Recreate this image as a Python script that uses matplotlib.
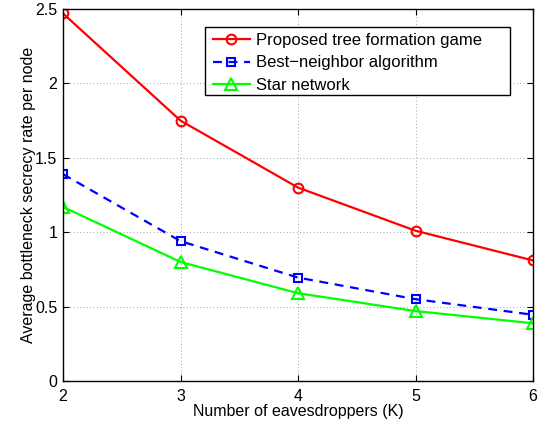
import matplotlib
matplotlib.use("Agg")
import matplotlib.pyplot as plt
from matplotlib.patches import Rectangle

plt.rcParams['font.family'] = ['Liberation Sans', 'DejaVu Sans']

eavesdroppers = [2, 3, 4, 5, 6]
tree_game = [2.47, 1.75, 1.30, 1.01, 0.81]
best_neighbor = [1.39, 0.94, 0.695, 0.55, 0.445]
star_network = [1.17, 0.80, 0.59, 0.47, 0.388]

FS = 11.5
W, H = 553, 423

fig = plt.figure(figsize=(W / 100, H / 100), dpi=100)
ax = fig.add_axes([63 / W, 1 - 381 / H, (533 - 63) / W, (381 - 9) / H])

ax.plot(eavesdroppers, tree_game, color='#ff0000', lw=1.6, marker='o', ms=7,
        mfc='none', mew=1.5, label='Proposed tree formation game')
ax.plot(eavesdroppers, best_neighbor, color='#0000ff', lw=1.6, ls=(0, (4, 3)),
        marker='s', ms=6, mfc='none', mew=1.5, label='Best\u2212neighbor algorithm')
ax.plot(eavesdroppers, star_network, color='#00ff00', lw=1.6, marker='^', ms=8.5,
        mfc='none', mew=1.5, label='Star network')

ax.set_xlim(2, 6)
ax.set_ylim(0, 2.5)
ax.set_xticks(eavesdroppers)
ax.set_yticks([0, 0.5, 1, 1.5, 2, 2.5])
ax.set_yticklabels(['0', '0.5', '1', '1.5', '2', '2.5'])
ax.tick_params(direction='in', top=True, right=True, labelsize=FS, length=4)
ax.tick_params(axis='x', pad=5.5)
ax.tick_params(axis='y', pad=4)
ax.grid(True, color='#888888', ls=(0, (1, 3)), lw=0.6)
for s in ax.spines.values():
    s.set_linewidth(1.0)

ax.set_xlabel('Number of eavesdroppers (K)', fontsize=FS, labelpad=0)
ax.set_ylabel('Average bottleneck secrecy rate per node', fontsize=FS, labelpad=-0.5)

# legend entries without their own frame; a plain box is drawn around them
leg = ax.legend(loc='upper left', bbox_to_anchor=(208 / W, 1 - 28 / H),
                bbox_transform=fig.transFigure, fontsize=12, frameon=False,
                handlelength=2.2, borderpad=0.3, labelspacing=0.45,
                handletextpad=0.4, borderaxespad=0)
leg.set_zorder(6)
ax.add_patch(Rectangle((205 / W, 1 - 95 / H), (510 - 205) / W, (95 - 27) / H,
                       transform=fig.transFigure, facecolor='white',
                       edgecolor='black', lw=1.0, zorder=5, clip_on=False))

fig.savefig('out.png', dpi=100)
